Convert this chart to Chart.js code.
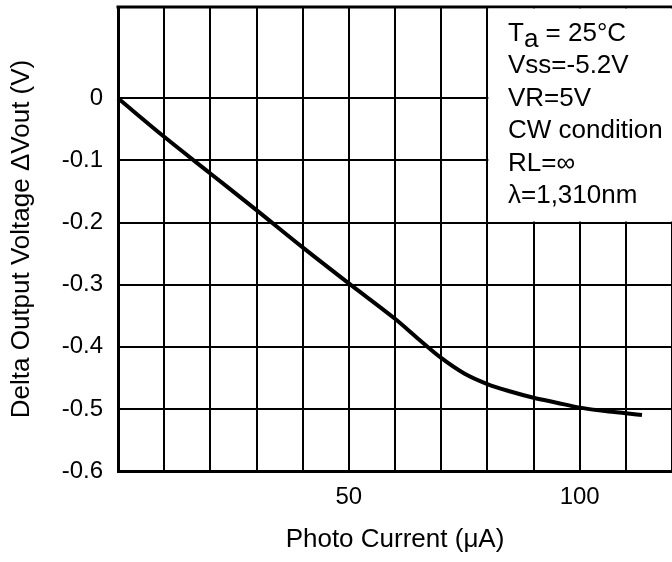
<!DOCTYPE html>
<html>
<head>
<meta charset="utf-8">
<script src="https://cdn.jsdelivr.net/npm/chart.js@4"></script>
<style>
  html, body { margin: 0; padding: 0; background: #fff; }
  #wrap { width: 672px; height: 562px; }
</style>
</head>
<body>
<div id="wrap"><canvas id="chart" width="672" height="562"></canvas></div>
<script>
// photo current (uA) vs delta output voltage (V)
const photoCurrent = [0, 10, 20, 30, 40, 50, 60, 65, 70, 75, 80, 85, 90, 95, 100, 105, 110, 113.5];
const deltaVout = [0, -0.062, -0.121, -0.18, -0.24, -0.298, -0.355, -0.387, -0.418, -0.443, -0.46, -0.472, -0.482, -0.49, -0.498, -0.503, -0.507, -0.51];

const xTicks = [0, 10, 20, 30, 40, 50, 60, 70, 80, 90, 100, 110, 120];
const xLabels = [50, 100];
const yTicks = [-0.6, -0.5, -0.4, -0.3, -0.2, -0.1, 0];

const conditions = ["= 25°C", "Vss=-5.2V", "VR=5V", "CW condition", "RL=∞", "λ=1,310nm"];

const FONT = "'Liberation Sans', Arial, Helvetica, sans-serif";

function noEdgePadding(axis) {
  axis.paddingTop = 0;
  axis.paddingBottom = 0;
  axis.paddingLeft = 0;
  axis.paddingRight = 0;
}

const frameAndNotes = {
  id: "frameAndNotes",
  afterDatasetsDraw(chart) {
    const { ctx, chartArea, scales } = chart;
    ctx.save();
    // top border of the plot frame
    ctx.strokeStyle = "#000";
    ctx.lineWidth = 3;
    ctx.beginPath();
    ctx.moveTo(chartArea.left - 1.5, chartArea.top);
    ctx.lineTo(chartArea.right, chartArea.top);
    ctx.stroke();

    // white box with the test conditions
    const bx = scales.x.getPixelForValue(80) + 1;
    const by = scales.y.getPixelForValue(-0.2) - 1;
    ctx.fillStyle = "#fff";
    ctx.fillRect(bx, chartArea.top + 1.5, chartArea.right - bx, by - chartArea.top - 1.5);

    ctx.fillStyle = "#000";
    ctx.font = "26px " + FONT;
    ctx.textBaseline = "alphabetic";
    ctx.textAlign = "left";
    const tx = 508;
    let ty = 41;
    // first line: T with subscript a
    ctx.fillText("T", tx, ty);
    const tw = ctx.measureText("T").width;
    ctx.fillText("a", tx + tw, ty + 6);
    const aw = ctx.measureText("a ").width;
    ctx.fillText(conditions[0], tx + tw + aw, ty);
    for (let i = 1; i < conditions.length; i++) {
      ty += 32.4;
      ctx.fillText(conditions[i], tx, ty);
    }
    ctx.restore();
  }
};

new Chart(document.getElementById("chart"), {
  type: "scatter",
  data: {
    datasets: [{
      data: photoCurrent.map((x, i) => ({ x: x, y: deltaVout[i] })),
      showLine: true,
      borderColor: "#000",
      borderWidth: 4,
      pointRadius: 0,
      cubicInterpolationMode: "monotone",
      clip: false,
    }],
  },
  options: {
    responsive: false,
    animation: false,
    layout: { padding: { top: 7, right: 0, left: 0, bottom: 0 } },
    plugins: {
      legend: { display: false },
      tooltip: { enabled: false },
    },
    scales: {
      x: {
        type: "linear",
        min: 0,
        max: 120,
        afterBuildTicks: (axis) => { axis.ticks = xTicks.map(v => ({ value: v })); },
        afterFit: (axis) => { axis.height = 91; noEdgePadding(axis); },
        ticks: {
          autoSkip: false,
          maxRotation: 0,
          padding: 12,
          color: "#000",
          font: { family: FONT, size: 24 },
          callback: (v) => xLabels.includes(v) ? String(v) : "",
        },
        grid: { color: "#000", lineWidth: 2, drawTicks: false },
        border: { color: "#000", width: 3 },
        title: {
          display: true,
          text: "Photo Current (μA)",
          color: "#000",
          font: { family: FONT, size: 26 },
          padding: { top: 0, bottom: 7 },
        },
      },
      y: {
        type: "linear",
        min: -0.6,
        max: 0.147,
        afterBuildTicks: (axis) => { axis.ticks = yTicks.map(v => ({ value: v })); },
        afterFit: (axis) => { axis.width = 118; noEdgePadding(axis); },
        ticks: {
          padding: 15,
          color: "#000",
          font: { family: FONT, size: 24 },
          callback: (v) => v === 0 ? "0" : v.toFixed(1),
        },
        grid: { color: "#000", lineWidth: 2, drawTicks: false },
        border: { color: "#000", width: 3 },
        title: {
          display: true,
          text: "Delta Output Voltage ΔVout (V)",
          color: "#000",
          font: { family: FONT, size: 26 },
          padding: { top: 6, bottom: 0 },
        },
      },
    },
  },
  plugins: [frameAndNotes],
});
</script>
</body>
</html>
